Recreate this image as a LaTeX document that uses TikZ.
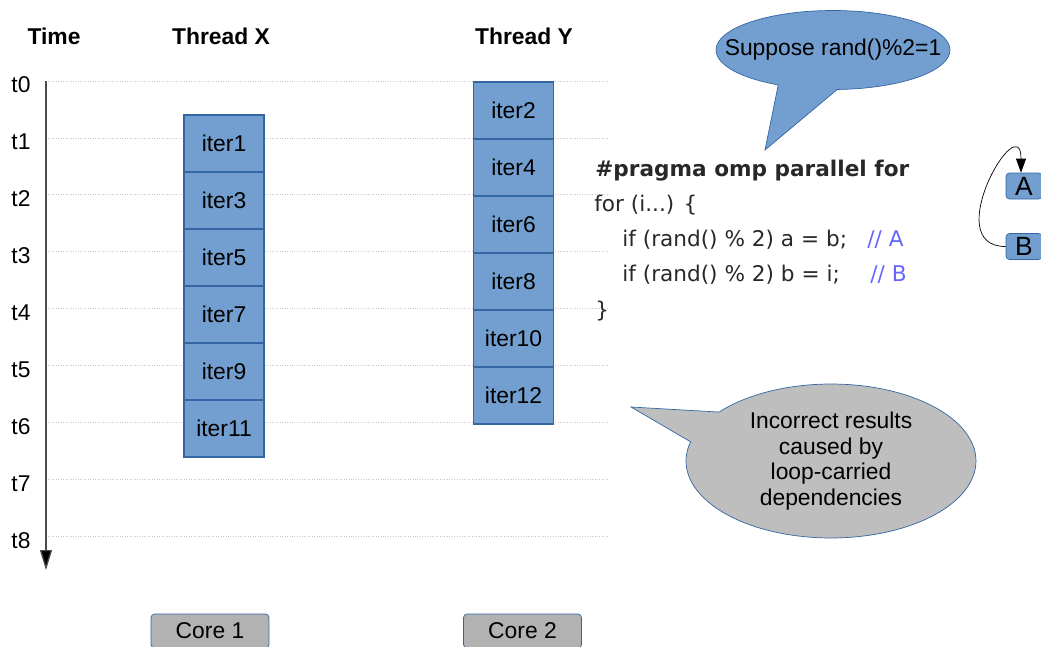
\documentclass[tikz,border=0pt]{standalone}
\usepackage{fontspec}
\setmainfont{Liberation Sans}
\newfontfamily\codefont{DejaVu Sans}
\usetikzlibrary{shapes.callouts,arrows.meta}

\definecolor{iterblue}{RGB}{114,159,207}
\definecolor{iterline}{RGB}{52,101,164}
\definecolor{coregray}{RGB}{178,178,178}
\definecolor{notegray}{RGB}{190,190,190}
\definecolor{commentblue}{RGB}{102,102,255}
\definecolor{codegray}{RGB}{40,40,40}

\begin{document}
\begin{tikzpicture}[x=0.02cm, y=-0.02cm,
  every node/.style={font=\fontsize{13}{15}\selectfont},
  header/.style={font=\fontsize{13}{15}\selectfont\bfseries},
  iterbox/.style={draw=iterline, line width=0.7pt, fill=iterblue, minimum width=1.6cm, minimum height=1.14cm, inner sep=0pt},
  corebox/.style={draw=iterline, fill=coregray, rounded corners=2pt, minimum width=2.36cm, minimum height=0.68cm, inner sep=0pt},
  varbox/.style={draw=iterline, fill=iterblue, rounded corners=2pt, minimum width=0.72cm, minimum height=0.52cm, inner sep=0pt, font=\fontsize{15}{17}\selectfont},
  gridline/.style={gray!45, densely dotted, line width=0.4pt},
  codeline/.style={anchor=base west, inner sep=0pt, text=codegray, font=\fontsize{12.3}{14}\selectfont\codefont},
  comment/.style={anchor=base west, inner sep=0pt, text=commentblue, font=\fontsize{12.3}{14}\selectfont\codefont},
  ]

  \useasboundingbox (0,0) rectangle (1041,646);

  % The headers
  \node[header] (time) at (54,36) {Time};
  \node[header] (threadx) at (221,36) {Thread X};
  \node[header] (thready) at (524,36) {Thread Y};

  % The time steps $t_0, \dots, t_8$
  \foreach \t in {0,...,8} {
    \coordinate (g\t) at (46, {81+56.9*\t});
    \draw[gridline] (g\t) -- ++(561,0);
    \node (t\t) at (21, {85+56.9*\t}) {t\t};
  }
  \coordinate (tend) at (46,570);
  \draw[black!70, line width=0.7pt, -{Triangle[length=0.4cm, width=0.24cm, fill=black]}] (g0) -- (tend);

  % The iterations of both threads
  \foreach \k in {1,...,6} {
    \pgfmathtruncatemacro{\odd}{2*\k-1}
    \pgfmathtruncatemacro{\even}{2*\k}
    \node[iterbox] (x\k) at (224, {143.5+57*(\k-1)}) {iter\odd};
    \node[iterbox] (y\k) at (513.5, {110.5+57*(\k-1)}) {iter\even};
  }

  % The cores
  \node[corebox] (core1) at (210,631) {Core 1};
  \node[corebox] (core2) at (522.5,631) {Core 2};

  % The loop
  \node[codeline, font=\fontsize{12.3}{14}\selectfont\codefont\bfseries] (pragma) at (595,176) {\#pragma omp parallel for};
  \node[codeline] (forline) at (594,211.3) {for (i...) \{};
  \node[codeline] (lineA) at (622,246.6) {if (rand() \% 2) a = b;};
  \node[comment] (cA) at (867,246.6) {// A};
  \node[codeline] (lineB) at (622,281.9) {if (rand() \% 2) b = i;};
  \node[comment] (cB) at (870,281.9) {// B};
  \node[codeline] (close) at (595,317.2) {\}};

  % The dependence $B \to A$
  \node[varbox] (varA) at (1024,186) {A};
  \node[varbox] (varB) at (1024,246.5) {B};
  \draw[-{Triangle[length=0.28cm, width=0.2cm]}] (varB.west) to[out=180, in=90, looseness=2.3] ([xshift=-0.06cm]varA.north);

  % The notes
  \node[ellipse callout, draw=iterline, fill=iterblue, minimum width=4.68cm, minimum height=1.58cm,
        inner sep=0pt, callout absolute pointer={(765,150)}, callout pointer arc=30] (suppose) at (833,50)
        {\makebox[0pt]{Suppose rand()\%2=1}};
  \node[ellipse callout, draw=iterline, fill=notegray, minimum width=5.8cm, minimum height=3.08cm,
        inner sep=0pt, align=center, font=\fontsize{13}{14.7}\selectfont,
        callout absolute pointer={(631,407)}, callout pointer arc=25] (result) at (831,461)
        {Incorrect results\\caused by\\loop-carried\\dependencies};

\end{tikzpicture}
\end{document}
